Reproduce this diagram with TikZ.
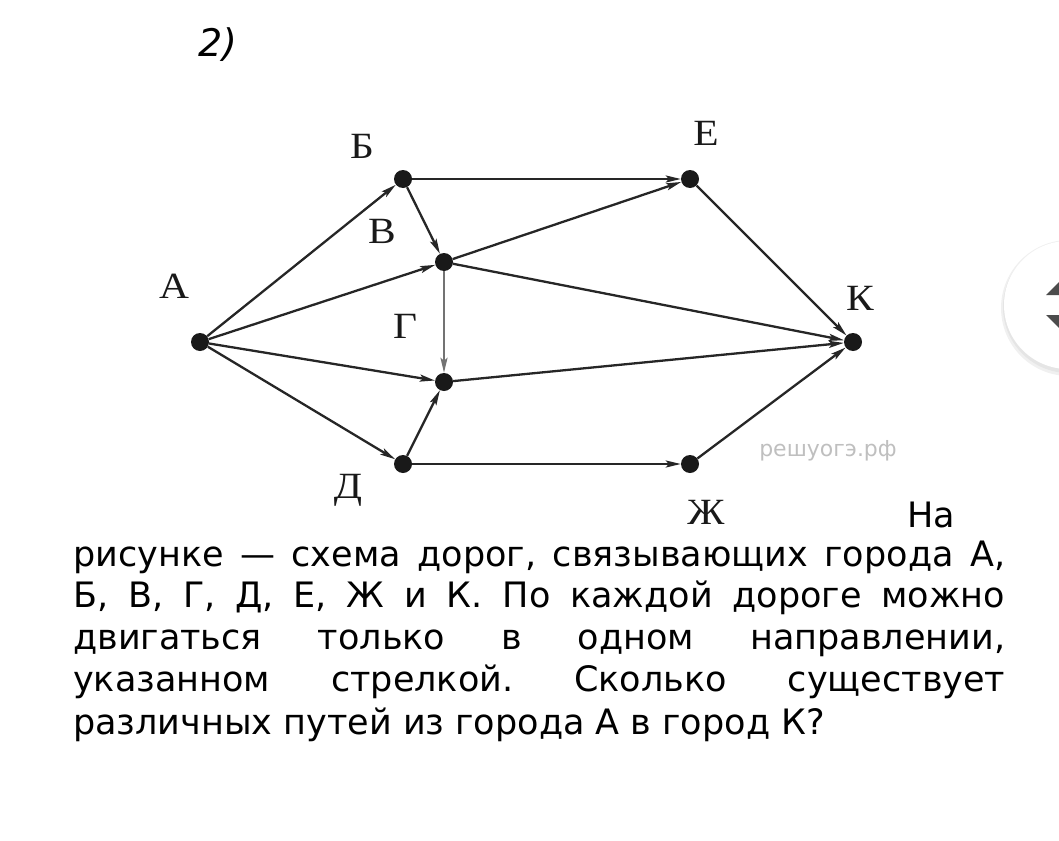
\documentclass[tikz,border=0pt]{standalone}
\usepackage{fontspec}
\setmainfont{Liberation Serif}
\newfontfamily\txtfont{DejaVu Sans}
\newfontfamily\numfont{DejaVu Sans}
\usetikzlibrary{arrows.meta}
\frenchspacing
\tikzset{
  city/.style={circle, fill=black!90, inner sep=0pt, minimum size=18pt},
  lbl/.style={font=\fontsize{37}{37}\selectfont, text=black!90, inner sep=0pt, xscale=1.12},
  road/.style={-{Stealth[length=15pt,width=7pt,inset=3pt]}, line width=2.3pt, draw=black!85},
  txt/.style={font=\txtfont\fontsize{35}{40}\selectfont, anchor=base west, inner sep=0pt},
  wmark/.style={font=\numfont\fontsize{22}{22}\selectfont, text=black!25, inner sep=0pt}
}

\begin{document}
\begin{tikzpicture}[x=1pt,y=-1pt]
\useasboundingbox (0,0) rectangle (1059,840);

\node[font=\numfont\itshape\fontsize{38}{38}\selectfont, anchor=base west, inner sep=0pt] (num) at (198,57) {2)};

% cities
\node[city] (A) at (200,342) {};
\node[city] (B) at (403,179) {};
\node[city] (E) at (690,179) {};
\node[city] (V) at (444,262) {};
\node[city] (G) at (444,382) {};
\node[city] (D) at (403,464) {};
\node[city] (Zh) at (690,464) {};
\node[city] (K) at (853,342) {};

% city labels
\node[lbl] (lA) at (174,286) {А};
\node[lbl] (lB) at (362,146) {Б};
\node[lbl] (lE) at (706,133) {Е};
\node[lbl] (lV) at (382,231) {В};
\node[lbl] (lG) at (405,326) {Г};
\node[lbl] (lK) at (860,298) {К};
\node[lbl] (lD) at (348,490) {Д};
\node[lbl] (lZh) at (706,512) {Ж};

\node[wmark] (wm) at (828,451) {решуогэ.рф};

% roads
\draw[road] (A) -- (B);
\draw[road] (A) -- (V);
\draw[road] (A) -- (G);
\draw[road] (A) -- (D);
\draw[road] (B) -- (E);
\draw[road] (B) -- (V);
\draw[road] (V) -- (E);
\draw[road] (V) -- (K);
\draw[road, draw=black!55] (V) -- (G);
\draw[road] (G) -- (K);
\draw[road] (D) -- (G);
\draw[road] (D) -- (Zh);
\draw[road] (E) -- (K);
\draw[road] (Zh) -- (K);

% task text
\node[txt, anchor=base east] (t0) at (955,527) {На};
\node[txt] (t1) at (73,566) {\makebox[932pt][s]{рисунке — схема дорог, связывающих города А,}};
\node[txt] (t2) at (73,607) {\makebox[932pt][s]{Б, В, Г, Д, Е, Ж и К. По каждой дороге можно}};
\node[txt] (t3) at (73,649) {\makebox[932pt][s]{двигаться только в одном направлении,}};
\node[txt] (t4) at (73,691) {\makebox[932pt][s]{указанном стрелкой. Сколько существует}};
\node[txt] (t5) at (73,734) {различных путей из города А в город К?};

% scroll button
\begin{scope}
\clip (0,0) rectangle (1059,840);
\fill[black!6] (1069,308) circle (68);
\fill[black!10] (1069,307) circle (66);
\fill[white] (1068,305) circle (64);
\fill[black!70] (1046,295) -- (1060,281) -- (1074,295) -- cycle;
\fill[black!70] (1046,315) -- (1060,329) -- (1074,315) -- cycle;
\end{scope}
\end{tikzpicture}
\end{document}
